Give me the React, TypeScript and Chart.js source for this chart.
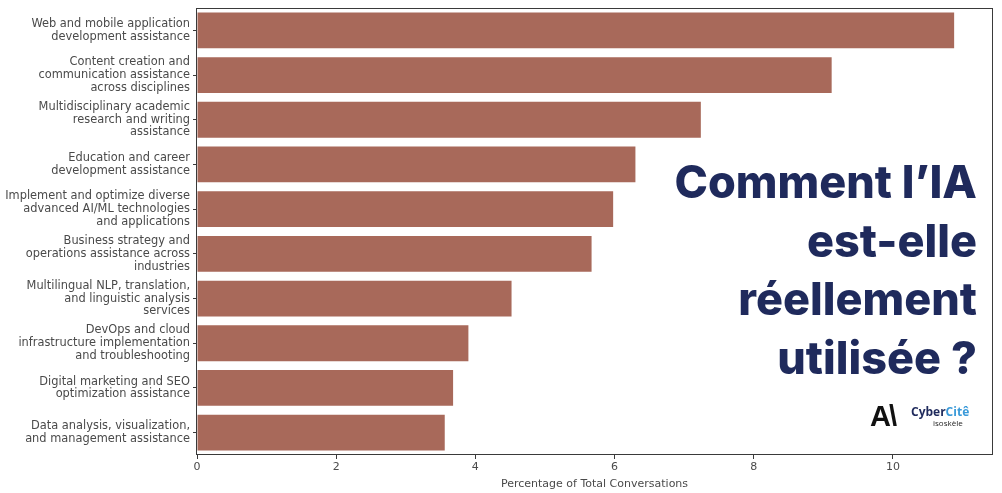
import React, { useEffect, useRef } from "react";
import { Chart, registerables } from "chart.js";

Chart.register(...registerables);

const categories: string[][] = [
  ["Web and mobile application", "development assistance"],
  ["Content creation and", "communication assistance", "across disciplines"],
  ["Multidisciplinary academic", "research and writing", "assistance"],
  ["Education and career", "development assistance"],
  ["Implement and optimize diverse", "advanced AI/ML technologies", "and applications"],
  ["Business strategy and", "operations assistance across", "industries"],
  ["Multilingual NLP, translation,", "and linguistic analysis", "services"],
  ["DevOps and cloud", "infrastructure implementation", "and troubleshooting"],
  ["Digital marketing and SEO", "optimization assistance"],
  ["Data analysis, visualization,", "and management assistance"],
];

const percentages: number[] = [10.88, 9.12, 7.24, 6.3, 5.98, 5.67, 4.52, 3.9, 3.68, 3.56];

const xTickStep = 2;
const xAxisTitle = "Percentage of Total Conversations";
const titleLines: string[] = ["Comment l’IA", "est-elle", "réellement", "utilisée ?"];

const BAR_COLOR = "#a8695a";
const TEXT_COLOR = "#4a4a4a";
const LABEL_FONT = "'DejaVu Sans', sans-serif";

const framePlugin = {
  id: "frame",
  afterDraw(chart: any) {
    const { ctx, chartArea } = chart;
    ctx.save();
    ctx.strokeStyle = "#3a3a3a";
    ctx.lineWidth = 1;
    ctx.strokeRect(
      Math.round(chartArea.left) - 0.5,
      Math.round(chartArea.top) + 0.5,
      Math.round(chartArea.right - chartArea.left) + 1,
      Math.round(chartArea.bottom - chartArea.top) - 1
    );
    ctx.restore();
  },
};

export default function App() {
  const canvasRef = useRef<HTMLCanvasElement | null>(null);

  useEffect(() => {
    if (!canvasRef.current) return;
    const maxVal = Math.max(...percentages);
    const chart = new Chart(canvasRef.current, {
      type: "bar",
      data: {
        labels: categories,
        datasets: [
          {
            data: percentages,
            backgroundColor: BAR_COLOR,
            borderWidth: 0,
            barPercentage: 0.8,
            categoryPercentage: 1.0,
          },
        ],
      },
      options: {
        indexAxis: "y",
        animation: false,
        responsive: true,
        maintainAspectRatio: false,
        layout: { padding: { left: 0, right: 10, top: 8, bottom: 0 } },
        plugins: {
          legend: { display: false },
          tooltip: { enabled: false },
        },
        scales: {
          x: {
            type: "linear",
            min: 0,
            max: maxVal * 1.05,
            border: { display: false },
            grid: {
              display: true,
              drawOnChartArea: false,
              drawTicks: true,
              tickLength: 4,
              color: "#3a3a3a",
            },
            ticks: {
              stepSize: xTickStep,
              includeBounds: false,
              color: TEXT_COLOR,
              padding: 2,
              font: { family: LABEL_FONT, size: 11 },
            },
            title: {
              display: true,
              text: xAxisTitle,
              color: TEXT_COLOR,
              padding: { top: 6, bottom: 2 },
              font: { family: LABEL_FONT, size: 11 },
            },
            afterFit(scale: any) {
              scale.height = 38;
              scale.paddingRight = 0;
              scale.paddingLeft = 0;
            },
          },
          y: {
            type: "category",
            offset: true,
            border: { display: false },
            grid: {
              display: true,
              offset: false,
              drawOnChartArea: false,
              drawTicks: true,
              tickLength: 4,
              color: "#3a3a3a",
            },
            ticks: {
              color: TEXT_COLOR,
              padding: 3,
              autoSkip: false,
              font: { family: LABEL_FONT, size: 11.4, lineHeight: 1.12 },
            },
            afterFit(scale: any) {
              scale.width = 197;
              scale.paddingTop = 0;
              scale.paddingBottom = 0;
            },
          },
        },
      },
      plugins: [framePlugin],
    });
    return () => chart.destroy();
  }, []);

  return (
    <div
      style={{
        position: "absolute",
        left: 0,
        top: 0,
        width: 1002,
        height: 493,
        background: "#ffffff",
        overflow: "hidden",
      }}
    >
      <canvas ref={canvasRef} style={{ display: "block" }} />
      <div
        style={{
          position: "absolute",
          right: 25,
          top: 153,
          textAlign: "right",
          fontFamily: "Inter, sans-serif",
          fontWeight: 800,
          fontSize: 45,
          lineHeight: "58.5px",
          color: "#1f2a5c",
          whiteSpace: "nowrap",
        }}
      >
        {titleLines.map((t, i) => (
          <div key={i}>{t}</div>
        ))}
      </div>
      <div
        style={{
          position: "absolute",
          left: 870,
          top: 400,
          fontFamily: "'Liberation Sans', Arial, sans-serif",
          fontWeight: 900,
          fontSize: 29,
          color: "#111",
          letterSpacing: -2,
        }}
      >
        A\
      </div>
      <div
        style={{
          position: "absolute",
          left: 911,
          top: 405,
          fontFamily: "'Open Sans', sans-serif",
          fontWeight: 700,
          fontSize: 12,
          lineHeight: "13px",
        }}
      >
        <span style={{ color: "#1f2a5c" }}>Cyber</span>
        <span style={{ color: "#3a9ad9" }}>Citê</span>
      </div>
      <div
        style={{
          position: "absolute",
          left: 933,
          top: 418,
          fontFamily: "'Open Sans', sans-serif",
          fontSize: 8,
          lineHeight: "10px",
          color: "#222",
        }}
      >
        isoskèle
      </div>
    </div>
  );
}
